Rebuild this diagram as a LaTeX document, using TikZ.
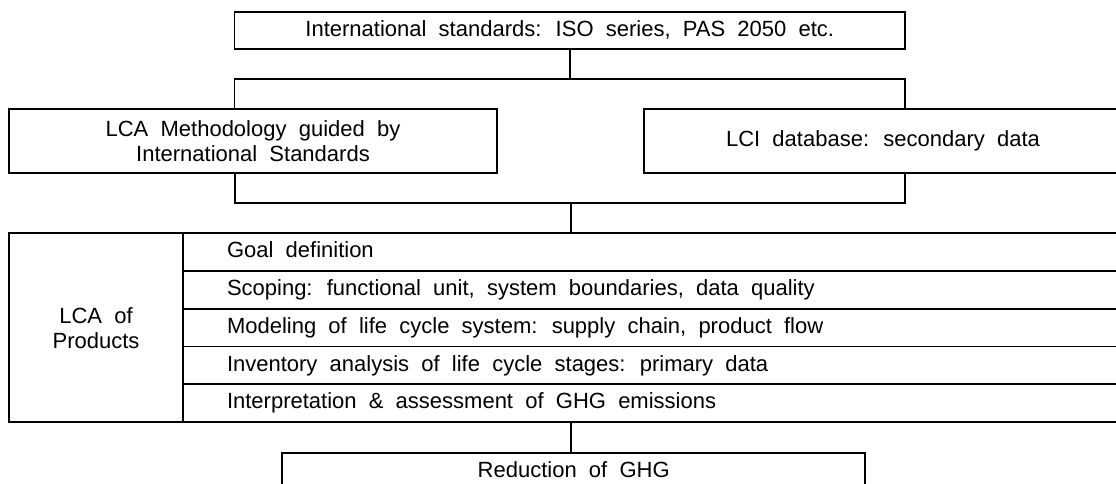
\documentclass[tikz,border=0pt]{standalone}
\usepackage{fontspec}
\setmainfont{Liberation Sans}[WordSpace=2]
\begin{document}
\begin{tikzpicture}[x=1pt,y=-1pt,
  line width=1.8pt,
  every node/.style={font=\fontsize{22}{25}\selectfont, text height=16pt, text depth=4.5pt, inner sep=0pt},
  box/.style={draw, rectangle, align=center},
  rowbox/.style={draw, rectangle, minimum width=942pt, minimum height=37.7pt},
  rowtext/.style={anchor=west},
  link/.style={line width=1.8pt}]
\useasboundingbox (0,0) rectangle (1116,483);
\clip (0,0) rectangle (1116,483);
\fill[white] (0,0) rectangle (1116,483);

\node[box, minimum width=670.5pt, minimum height=37.3pt] (top) at (569.8,30.7) {International standards: ISO series, PAS 2050 etc.};

\node[box, minimum width=488pt, minimum height=63.4pt, text height=, text depth=] (meth) at (253,141) {LCA Methodology guided by\\International Standards};
\node[box, minimum width=478pt, minimum height=63.4pt] (lci) at (883,141) {LCI database: secondary data};

\node[box, minimum width=174pt, minimum height=188.7pt, text height=, text depth=] (lca) at (96,327.7) {LCA of\\Products};
\node[rowbox] (r1) at (654,252.15) {};
\node[rowbox] (r2) at (654,289.85) {};
\node[rowbox] (r3) at (654,327.55) {};
\node[rowbox] (r4) at (654,365.25) {};
\node[rowbox] (r5) at (654,402.95) {};
\node[rowtext] (t1) at ([xshift=44pt]r1.west) {Goal definition};
\node[rowtext] (t2) at ([xshift=44pt]r2.west) {Scoping: functional unit, system boundaries, data quality};
\node[rowtext] (t3) at ([xshift=44pt]r3.west) {Modeling of life cycle system: supply chain, product flow};
\node[rowtext] (t4) at ([xshift=44pt]r4.west) {Inventory analysis of life cycle stages: primary data};
\node[rowtext] (t5) at ([xshift=44pt]r5.west) {Interpretation \& assessment of GHG emissions};

\node[box, minimum width=582.7pt, minimum height=37.3pt] (red) at (573.7,471.4) {Reduction of GHG};

\coordinate (bl) at (234.5,79.3);
\coordinate (br) at (905,79.3);
\draw[link] (top.south) -- (top.south |- bl);
\draw[link] (bl |- meth.north) -- (bl) -- (br) -- (br |- lci.north);

\coordinate (cl) at (235,203.3);
\coordinate (cr) at (905,203.3);
\coordinate (cm) at (571,203.3);
\draw[link] (cl |- meth.south) -- (cl) -- (cr) -- (cr |- lci.south);
\draw[link] (cm) -- (cm |- r1.north);

\coordinate (dm) at (571,422);
\draw[link] (dm |- r5.south) -- (dm |- red.north);
\end{tikzpicture}
\end{document}
